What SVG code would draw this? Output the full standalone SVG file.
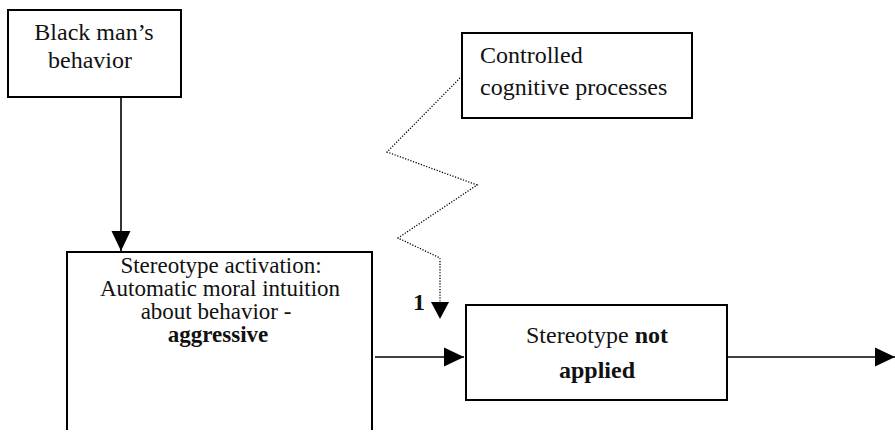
<svg xmlns="http://www.w3.org/2000/svg" width="895" height="436" viewBox="0 0 895 436">
<style>
.box{fill:#fff;stroke:#000;stroke-width:2}
text{font-family:'Liberation Serif','DejaVu Serif',serif;font-size:24px;fill:#111}
.m{font-size:23px}
.b{font-weight:bold}
.ln{fill:none;stroke:#000;stroke-width:1.6}
.dot{fill:none;stroke:#000;stroke-width:1.3;stroke-dasharray:1.2 1.6}
</style>
<defs>
<marker id="ah" markerUnits="userSpaceOnUse" markerWidth="20" markerHeight="20" viewBox="0 0 20 20" refX="20" refY="10" orient="auto">
<path d="M0,0.5 L20,10 L0,19.5 Z" fill="#000"/>
</marker>
</defs>
<rect width="895" height="436" fill="#fff"/>
<g id="connectors">
<line class="ln" x1="121" y1="97" x2="121" y2="251" marker-end="url(#ah)"/>
<polyline class="dot" points="460,78 387,152 477,185 398,238 440,258 440,305"/>
<path d="M431,302 L449,302 L440,319 Z" fill="#000"/>
<line class="ln" x1="375" y1="357" x2="464" y2="357" marker-end="url(#ah)"/>
<line class="ln" x1="727" y1="357" x2="895" y2="357" marker-end="url(#ah)"/>
</g>
<g id="n1">
<rect class="box" x="8" y="10" width="173" height="87"/>
<text x="94" y="40" text-anchor="middle">Black man’s</text>
<text x="48" y="68">behavior</text>
</g>
<g id="n2">
<path class="box" d="M67,430 L67,252 L372,252 L372,430" fill="#fff"/>
<text class="m" text-anchor="middle" x="221" y="273">Stereotype activation:</text>
<text class="m" text-anchor="middle" x="220" y="296">Automatic moral intuition</text>
<text class="m" text-anchor="middle" x="216" y="319">about behavior -</text>
<text class="m b" text-anchor="middle" x="218" y="342">aggressive</text>
</g>
<g id="n3">
<rect class="box" x="462" y="33" width="230" height="85"/>
<text x="480" y="63">Controlled</text>
<text x="480" y="95">cognitive processes</text>
</g>
<g id="n4">
<rect class="box" x="466" y="305" width="261" height="95"/>
<text text-anchor="middle" x="597" y="343">Stereotype <tspan class="b">not</tspan></text>
<text class="b" text-anchor="middle" x="597" y="378">applied</text>
</g>
<text class="b" x="413" y="310">1</text>
</svg>
